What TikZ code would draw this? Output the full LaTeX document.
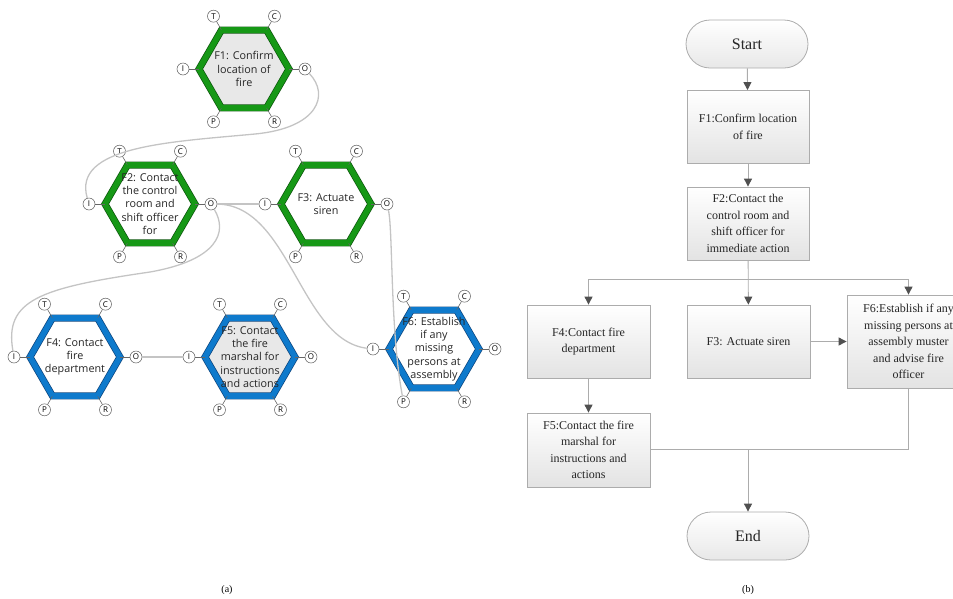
\documentclass[tikz,border=0pt]{standalone}
\usepackage{fontspec}
\setmainfont{Liberation Serif}
\newfontfamily\hexfont{Open Sans}
\usepackage{tikz}
\usetikzlibrary{shapes.geometric}
\usetikzlibrary{arrows.meta}

\definecolor{fgreen}{RGB}{22,152,22}
\definecolor{fgreendark}{RGB}{12,85,12}
\definecolor{fblue}{RGB}{14,122,204}
\definecolor{fbluedark}{RGB}{12,68,125}
\definecolor{hexgray}{RGB}{232,232,232}
\definecolor{wiregray}{RGB}{196,196,196}
\definecolor{boxline}{RGB}{172,172,172}
\definecolor{tipgray}{RGB}{80,80,80}

\begin{document}
\begin{tikzpicture}[x=1pt, y=1pt,
		hexg/.style={regular polygon, regular polygon sides=6, minimum size=90pt, inner sep=0pt, draw=fgreendark, line width=0.7pt, double=fgreen, double distance=5.6pt},
		hexb/.style={regular polygon, regular polygon sides=6, minimum size=90pt, inner sep=0pt, draw=fbluedark, line width=0.7pt, double=fblue, double distance=5.6pt},
		hextext/.style={font=\hexfont\fontsize{10.8}{13.3}\selectfont, text=black!85, align=center, inner sep=0pt},
		port/.style={circle, draw=black!65, fill=white, line width=0.5pt, minimum size=12pt, inner sep=0pt, font=\hexfont\fontsize{8}{8}\selectfont},
		stub/.style={draw=black!60, line width=0.6pt},
		wire/.style={draw=wiregray, line width=1.3pt},
		fbox/.style={rectangle, draw=boxline, line width=0.8pt, top color=white, bottom color=black!11, minimum width=122pt, minimum height=73pt, align=center, font=\fontsize{12}{16.5}\selectfont, text=black!85},
		term/.style={rectangle, rounded corners=24pt, draw=boxline, line width=0.8pt, top color=white, bottom color=black!9, minimum width=122pt, minimum height=48pt, font=\fontsize{16}{18}\selectfont, text=black!85},
		flow/.style={draw=boxline, line width=0.9pt},
		flowarrow/.style={flow, -{Triangle[width=8pt,length=8pt,color=tipgray]}}]
	\clip (0,0) rectangle (953,-598);
	
	% (a) functions as hexagons
	\node[hexg, fill=hexgray] (F1) at (244,-69) {};
	\node[hexg, fill=white] (F2) at (150,-204) {};
	\node[hexg, fill=white] (F3) at (326,-204) {};
	\node[hexb, fill=white] (F4) at (75,-357) {};
	\node[hexb, fill=hexgray] (F5) at (250,-357) {};
	\node[hexb, fill=white] (F6) at (434,-349) {};
	
	\foreach \h in {F1,F2,F3,F4,F5,F6} {
		\foreach \a/\p in {0/O,60/C,120/T,180/I,240/P,300/R} {
			\node[port] (\h-\p) at ([shift={(\a:61)}]\h.center) {\p};
			\draw[stub] (\h-\p) -- (\h);
		}
	}
	
	\node[hextext] (F1-txt) at (F1) {F1: Confirm\\location of\\fire};
	\node[hextext] (F2-txt) at (F2) {F2: Contact\\the control\\room and\\shift officer\\for};
	\node[hextext] (F3-txt) at (F3) {F3: Actuate\\siren};
	\node[hextext] (F4-txt) at (F4) {F4: Contact\\fire\\department};
	\node[hextext] (F5-txt) at (F5) {F5: Contact\\the fire\\marshal for\\instructions\\and actions};
	\node[hextext] (F6-txt) at (F6) {F6: Establish\\if any\\missing\\persons at\\assembly};
	
	\draw[wire] (F1-O) .. controls (330,-95) and (318,-128) .. (255,-134) .. controls (170,-142) and (72,-146) .. (F2-I);
	\draw[wire] (F2-O) -- (F3-I);
	\draw[wire] (F2-O) .. controls (228,-232) and (218,-260) .. (150,-272) .. controls (40,-288) and (4,-300) .. (F4-I);
	\draw[wire] (F2-O) .. controls (290,-205) and (300,-340) .. (F6-I);
	\draw[wire] (F3-O) .. controls (393,-230) and (390,-330) .. (F6-P);
	\draw[wire] (F4-O) -- (F5-I);
	
	\node (cap-a) at (227,-590) {\fontsize{10}{12}\selectfont(a)};
	
	% (b) flow chart
	\node[term] (start) at (747,-44) {Start};
	\node[fbox] (f1) at (748,-127) {F1:Confirm location\\of fire};
	\node[fbox] (f2) at (748,-223.5) {F2:Contact the\\control room and\\shift officer for\\immediate action};
	\node[fbox, minimum width=123pt] (f4) at (588.5,-341.5) {F4:Contact fire\\department};
	\node[fbox, minimum width=123pt] (f3) at (748.5,-341.5) {F3: Actuate siren};
	\node[fbox, minimum width=123pt, minimum height=93pt] (f6) at (908.5,-341.5) {F6:Establish if any\\missing persons at\\assembly muster\\and advise fire\\officer};
	\node[fbox, minimum width=123pt, minimum height=74pt] (f5) at (588.5,-450) {F5:Contact the fire\\marshal for\\instructions and\\actions};
	\node[term] (end) at (748,-536) {End};
	\coordinate (split) at (748,-279);
	\coordinate (join) at (748,-449.5);
	
	\draw[flowarrow] (start) -- (f1);
	\draw[flowarrow] (f1) -- (f2);
	\draw[flowarrow] (f2) -- (f3);
	\draw[flowarrow] (split) -| (f4);
	\draw[flowarrow] (split) -| (f6);
	\draw[flowarrow] (f3) -- (f6);
	\draw[flowarrow] (f4) -- (f5);
	\draw[flow] (f5.east |- join) -- (join);
	\draw[flow] (f6) |- (join);
	\draw[flowarrow] (join) -- (end);
	
	\node (cap-b) at (748,-590) {\fontsize{10}{12}\selectfont(b)};
\end{tikzpicture}
\end{document}
